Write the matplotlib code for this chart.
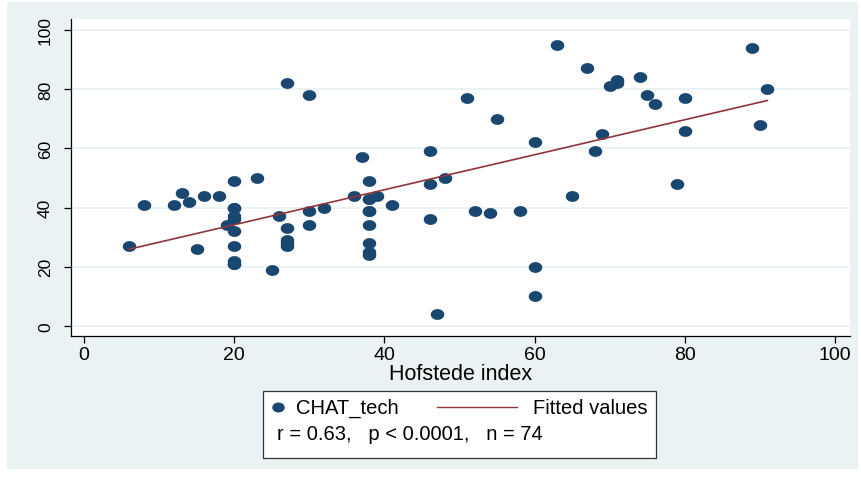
import numpy as np
import matplotlib
matplotlib.use('Agg')
import matplotlib.pyplot as plt
from matplotlib.patches import Rectangle
from matplotlib.lines import Line2D

plt.rcParams['font.family'] = ['Liberation Sans', 'DejaVu Sans']

# Hofstede index vs CHAT_tech
hofstede = [6, 8, 12, 13, 14, 15, 16, 18, 19,
            20, 20, 20, 20, 20, 20, 20, 20, 20,
            23, 25, 26, 27, 27, 27, 27, 27,
            30, 30, 30, 32, 36, 37,
            38, 38, 38, 38, 38, 38, 38, 38, 39, 41,
            46, 46, 46, 47, 48, 51, 52, 54, 55, 58,
            60, 60, 60, 63, 65, 67, 68, 69, 70, 71, 71,
            74, 75, 76, 79, 80, 80, 89, 90, 91,
            20, 38]
chat_tech = [27, 41, 41, 45, 42, 26, 44, 44, 34,
             49, 40, 37, 36, 32, 27, 22, 21, 40,
             50, 19, 37, 82, 33, 29, 28, 27,
             78, 39, 34, 40, 44, 57,
             49, 43, 43, 39, 34, 28, 25, 24, 44, 41,
             59, 48, 36, 4, 50, 77, 39, 38, 70, 39,
             62, 20, 10, 95, 44, 87, 59, 65, 81, 83, 82,
             84, 78, 75, 48, 77, 66, 94, 68, 80,
             21, 39]
legend_stats = "r = 0.63,   p < 0.0001,   n = 74"

x = np.array(hofstede, dtype=float)
y = np.array(chat_tech, dtype=float)
b, a = np.polyfit(x, y, 1)
xf = np.array([x.min(), x.max()])
yf = a + b * xf

W, H = 861, 481
fig = plt.figure(figsize=(W / 100, H / 100), dpi=100)
fig.patch.set_facecolor('white')
bg = Rectangle((7 / W, 1 - 470 / H), 851 / W, 467 / H,
               transform=fig.transFigure, facecolor='#eaf2f3',
               edgecolor='none', zorder=-10)
fig.patches.append(bg)

ax = fig.add_axes([71 / W, 1 - 337 / H, 779 / W, 317 / H])
ax.set_zorder(1)
ax.set_facecolor('white')

t = np.linspace(0, 2 * np.pi, 40)
ell = np.column_stack([np.cos(t), 0.8 * np.sin(t)])
ax.scatter(x, y, marker=ell, s=95, color='#1a476f', linewidths=0, zorder=3)
ax.plot(xf, yf, color='#90353b', lw=1.2, zorder=4)

ax.set_xlim(-1.75, 102)
ax.set_ylim(-3.4, 103.7)
ax.set_xticks([0, 20, 40, 60, 80, 100])
ax.set_yticks([0, 20, 40, 60, 80, 100])
ax.yaxis.grid(True, color='#eaf2f3', lw=1.4)
ax.set_axisbelow(True)
for s in ['top', 'right']:
    ax.spines[s].set_visible(False)
for s in ['left', 'bottom']:
    ax.spines[s].set_color('black')
    ax.spines[s].set_linewidth(0.9)
ax.tick_params(axis='both', length=5, width=0.9, colors='black')
ax.tick_params(axis='x', pad=2, labelsize=14)
ax.tick_params(axis='y', pad=8, labelsize=12.5)
for lab in ax.get_yticklabels():
    lab.set_rotation(90)
    lab.set_va('center')
ax.set_xlabel('Hofstede index', fontsize=15.5, labelpad=0)

# legend box
box = Rectangle((263 / W, 1 - 459 / H), 393 / W, 67 / H,
                transform=fig.transFigure, facecolor='white',
                edgecolor='#333333', lw=0.9, zorder=2)
fig.patches.append(box)
fig.add_artist(Line2D([278 / W], [1 - 408 / H], marker=ell, ms=9, ls='none',
                      color='#1a476f', markeredgewidth=0,
                      transform=fig.transFigure, zorder=3))
fig.text(296 / W, 1 - 408 / H, 'CHAT_tech', fontsize=14.5, va='center', ha='left', zorder=3)
fig.add_artist(Line2D([437 / W, 517 / W], [1 - 408 / H, 1 - 408 / H],
                      color='#90353b', lw=1.0, transform=fig.transFigure, zorder=3))
fig.text(533 / W, 1 - 408 / H, 'Fitted values', fontsize=14.5, va='center', ha='left', zorder=3)
fig.text(277 / W, 1 - 434 / H, legend_stats, fontsize=14.5, va='center', ha='left', zorder=3)

fig.savefig('out.png', dpi=100)
